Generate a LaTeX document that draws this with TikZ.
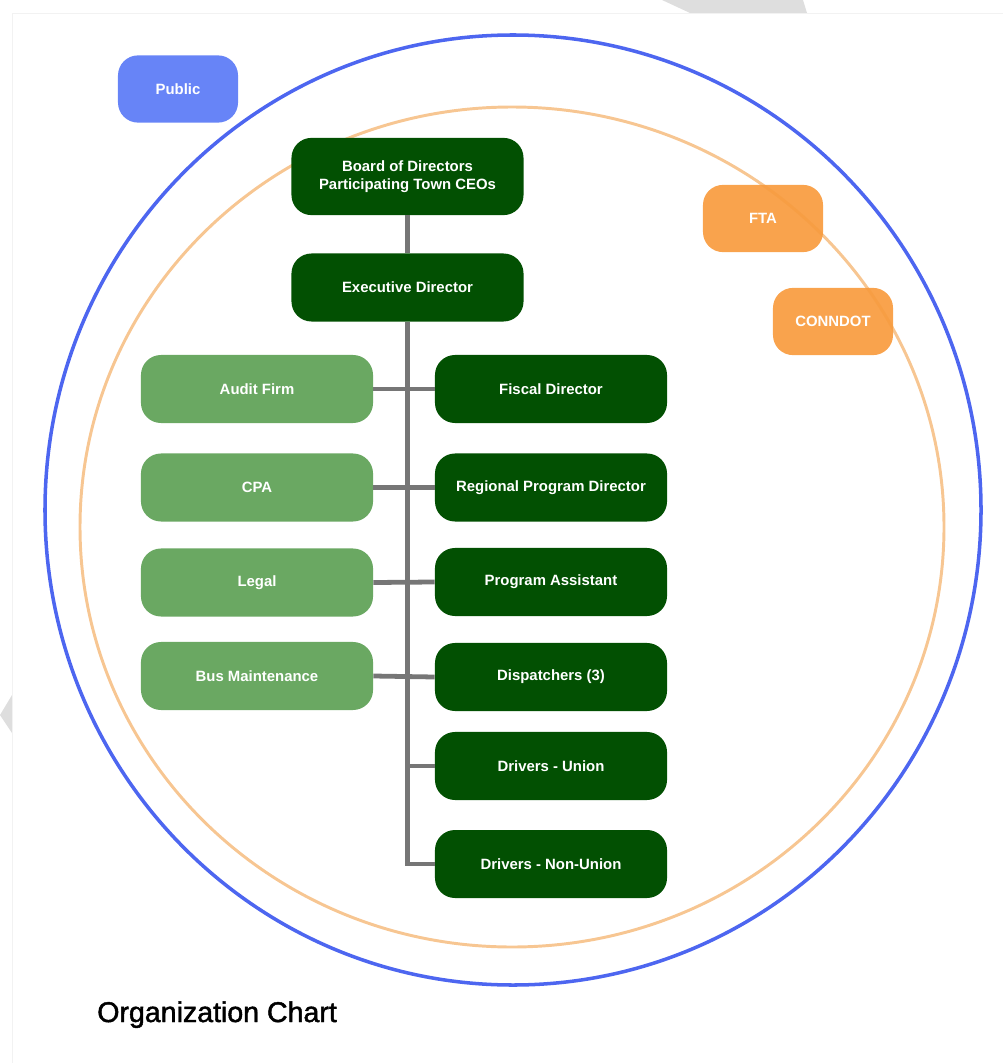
\documentclass[tikz,border=0pt]{standalone}
\usepackage{fontspec}
\setmainfont{Liberation Sans}
\font\titlefont="Liberation Sans:embolden=1.6" at 20.3pt
\definecolor{staffgreen}{RGB}{2,80,2}
\definecolor{helpgreen}{RGB}{106,168,98}
\definecolor{publicblue}{RGB}{90,122,246}
\definecolor{stateorange}{RGB}{248,155,62}
\definecolor{ringblue}{RGB}{77,102,240}
\definecolor{ringorange}{RGB}{247,198,146}
\definecolor{linegray}{RGB}{118,118,118}
\definecolor{scangray}{RGB}{222,222,222}
\tikzstyle{box} = [rectangle, rounded corners=0.5cm, minimum width=5.8cm, minimum height=1.7cm, inner sep=0pt, align=center, text=white, font=\fontsize{10.6}{13}\selectfont\bfseries]
\tikzstyle{staff} = [box, fill=staffgreen]
\tikzstyle{helper} = [box, fill=helpgreen]
\tikzstyle{agency} = [box, minimum width=3cm, minimum height=1.68cm, fill opacity=0.92, text opacity=1]
\tikzstyle{trunk} = [draw=linegray, line width=3.4pt]

\begin{document}
\begin{tikzpicture}[x=0.025cm, y=-0.025cm]
\useasboundingbox (0,0) rectangle (1003,1063);
% scan edges
\fill[scangray] (662,0) -- (803,0) -- (807,13) -- (690,13) -- cycle;
\fill[scangray] (0,715) -- (12,695) -- (12,733) -- cycle;
\draw[black!5, line width=0.6pt] (12,1063) -- (12,13) -- (1003,13);
% rings
\draw[ringorange, line width=2.1pt] (512,527) ellipse (432 and 420);
\draw[ringblue, line width=2.5pt] (513,510) ellipse (468 and 475);
% outside bodies
\node (public) [agency, fill=publicblue] at (178,89) {Public};
\node (fta) [agency, fill=stateorange] at (763,218.5) {FTA};
\node (conndot) [agency, fill=stateorange] at (833,321.5) {CONNDOT};
% top of the chart
\node (board) [staff, minimum height=1.93cm] at (407.5,176.5) {Board of Directors\\Participating Town CEOs};
\node (exec) [staff] at (407.5,287.5) {Executive Director};
% \node (exec) [staff, below of = board, yshift=-1cm] {Executive Director};
\foreach \n/\y/\t in {fiscal/389/Fiscal Director, regional/487.5/Regional Program Director, assistant/582/Program Assistant, dispatch/677/Dispatchers (3), union/766/Drivers - Union, nonunion/864/Drivers - Non-Union}
{
    \node (\n) [staff] at (551,\y) {\t};
}
\foreach \n/\y/\t in {audit/389/Audit Firm, cpa/487.5/CPA, legal/582.5/Legal, bus/676/Bus Maintenance}
{
    \node (\n) [helper] at (257,\y) {\t};
}
% lines
\draw[trunk] (board) -- (exec);
\draw[trunk] (exec.south) |- (nonunion.west);
\draw[trunk] (exec.south |- union.west) -- (union.west);
\foreach \a/\b in {audit/fiscal, cpa/regional, legal/assistant, bus/dispatch}
{
    \draw[trunk] (\a.east) -- (\b.west);
}
\node (title) [anchor=base west, inner sep=0pt, font=\titlefont] at (97,1022) {Organization Chart};
\end{tikzpicture}
\end{document}
